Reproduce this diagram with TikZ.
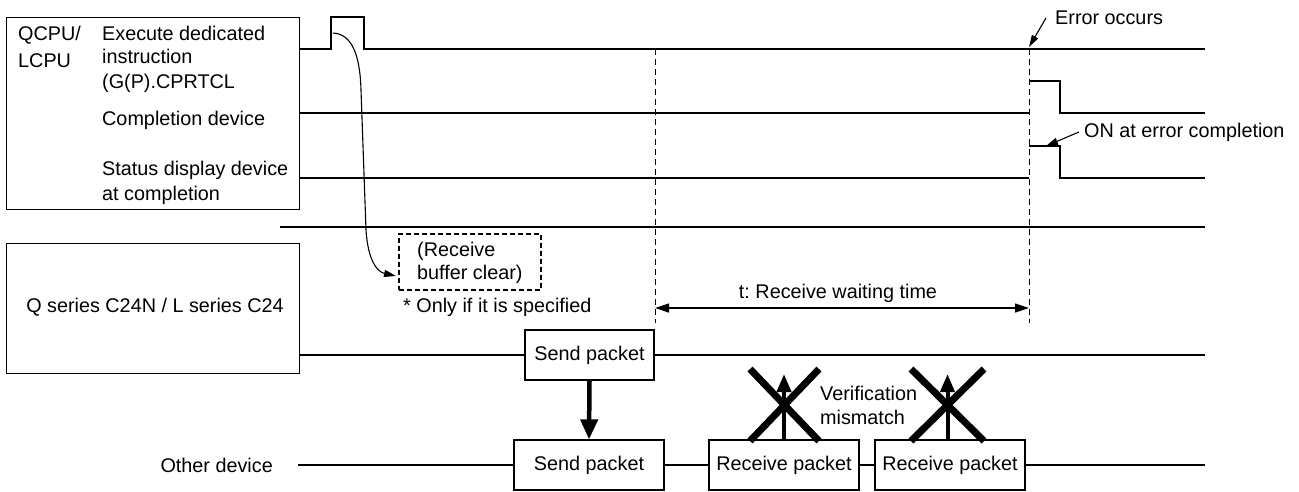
\documentclass[tikz,border=0pt]{standalone}
\usepackage{fontspec}
\setmainfont{Liberation Sans}
\usetikzlibrary{arrows.meta}
\frenchspacing
\begin{document}
\begin{tikzpicture}[x=1pt,y=-1pt,
  every node/.style={font=\fontsize{19.8}{24.5}\selectfont},
  sig/.style={line width=1.3pt},
  bus/.style={line width=2.9pt},
  frame/.style={draw, line width=1.2pt, inner sep=0pt},
  pkt/.style={draw, line width=1.2pt, inner sep=0pt, minimum height=50pt},
  txt/.style={anchor=base west, inner sep=0pt},
  vdash/.style={line width=0.9pt, dash pattern=on 6pt off 4pt},
  cross/.style={line width=7pt},
  fatarrow/.style={line width=4.5pt, -{Triangle[length=20pt,width=17pt]}},
  uparrow/.style={line width=4pt, -{Triangle[length=18pt,width=14pt]}},
  thinarrow/.style={line width=1.1pt, -{Triangle[length=12pt,width=7pt]}},
  dimarrow/.style={line width=1.2pt, {Triangle[length=14pt,width=9pt]}-{Triangle[length=14pt,width=9pt]}},
]
\useasboundingbox (0,0) rectangle (1299,491);

% frames
\node[frame, minimum width=293pt, minimum height=192pt, anchor=north west] (cpu) at (6,17) {};
\node[frame, minimum width=293pt, minimum height=130pt, anchor=north west] (c24) at (6,243) {};

% CPU texts
\node[txt] (q1) at (18,40) {QCPU/};
\node[txt] (q2) at (18,67) {LCPU};
\node[txt] (e1) at (102,40) {Execute dedicated};
\node[txt] (e2) at (102,63) {instruction};
\node[txt] (e3) at (102,88) {(G(P).CPRTCL};
\node[txt] (cd) at (102,125) {Completion device};
\node[txt] (s1) at (102,175) {Status display device};
\node[txt] (s2) at (102,200) {at completion};

% signals
\draw[sig] (299,49) -- (331,49) -- (331,17) -- (364,17) -- (364,49) -- (1205,49);
\draw[sig] (299,113) -- (1029,113);
\draw[sig] (1029,81) -- (1060,81) -- (1060,113) -- (1205,113);
\draw[sig] (299,178) -- (1029,178);
\draw[sig] (1029,146) -- (1060,146) -- (1060,178) -- (1205,178);

% separator
\draw[bus] (280,227) -- (1205,227);

% dashed time markers
\coordinate (d1t) at (655,49); \coordinate (d1b) at (655,323);
\coordinate (d2t) at (1029,49); \coordinate (d2b) at (1029,323);
\draw[vdash] (d1t) -- (d1b);
\draw[vdash] (d2t) -- (d2b);

% error occurs
\node[txt] (err) at (1055,24) {Error occurs};
\coordinate (erra) at (1046,18);
\coordinate (errb) at (1029,47);
\draw[thinarrow] (erra) -- (errb);

% ON at error completion
\node[txt] (onerr) at (1084,137) {ON at error completion};
\coordinate (ona) at (1079,132);
\coordinate (onb) at (1046,146);
\draw[thinarrow] (ona) -- (onb);

% receive buffer clear
\node[draw, line width=1.6pt, dash pattern=on 5pt off 3pt, minimum width=142pt, minimum height=56pt, anchor=north west, inner sep=0pt] (rbc) at (398,233) {};
\node[txt] (rb1) at (417,256) {(Receive};
\node[txt] (rb2) at (417,279) {buffer clear)};
\node[txt] (only) at (403,312) {* Only if it is specified};
\coordinate (cs) at (333,33);
\coordinate (ce) at (396,276);
\draw[thinarrow] (cs) .. controls (352,34) and (360,55) .. (361,90) -- (366,230) .. controls (368,262) and (378,272) .. (ce);

% waiting time
\coordinate (w1) at (655,308);
\coordinate (w2) at (1029,308);
\draw[dimarrow] (w1) -- (w2);
\node[anchor=center, inner sep=0pt] (wt) at (838,293) {t: Receive waiting time};

% C24
\node[anchor=center, inner sep=0pt] (c24t) at (155,307) {Q series C24N / L series C24};
\node[pkt, minimum width=129pt] (sp1) at (589.5,355) {Send packet};
\coordinate (c24a) at (299,355);
\coordinate (c24b) at (1205,355);
\draw[bus] (c24a) -- (sp1.west);
\draw[bus] (sp1.east) -- (c24b);

% Other device
\node[anchor=base east, inner sep=0pt] (oth) at (273,472) {Other device};
\node[pkt, minimum width=150pt] (sp2) at (589,465) {Send packet};
\node[pkt, minimum width=150pt] (rp1) at (784,465) {Receive packet};
\node[pkt, minimum width=150pt] (rp2) at (950,465) {Receive packet};
\coordinate (ota) at (298,465);
\coordinate (otb) at (1205,465);
\draw[bus] (ota) -- (sp2.west);
\draw[bus] (sp2.east) -- (rp1.west);
\draw[bus] (rp1.east) -- (rp2.west);
\draw[bus] (rp2.east) -- (otb);

% send arrow
\draw[fatarrow] (sp1.south) -- (sp2.north);

% rejected receive arrows
\coordinate (u1) at (784,374);
\coordinate (u2) at (947.5,374);
\draw[uparrow] (rp1.north -| u1) -- (u1);
\draw[uparrow] (rp2.north -| u2) -- (u2);
\draw[cross] (750,369) -- (819,441) (819,369) -- (750,441);
\draw[cross] (911,369) -- (984,441) (984,369) -- (911,441);
\node[txt] (vm1) at (820,400) {Verification};
\node[txt] (vm2) at (820,424) {mismatch};

\end{tikzpicture}
\end{document}
